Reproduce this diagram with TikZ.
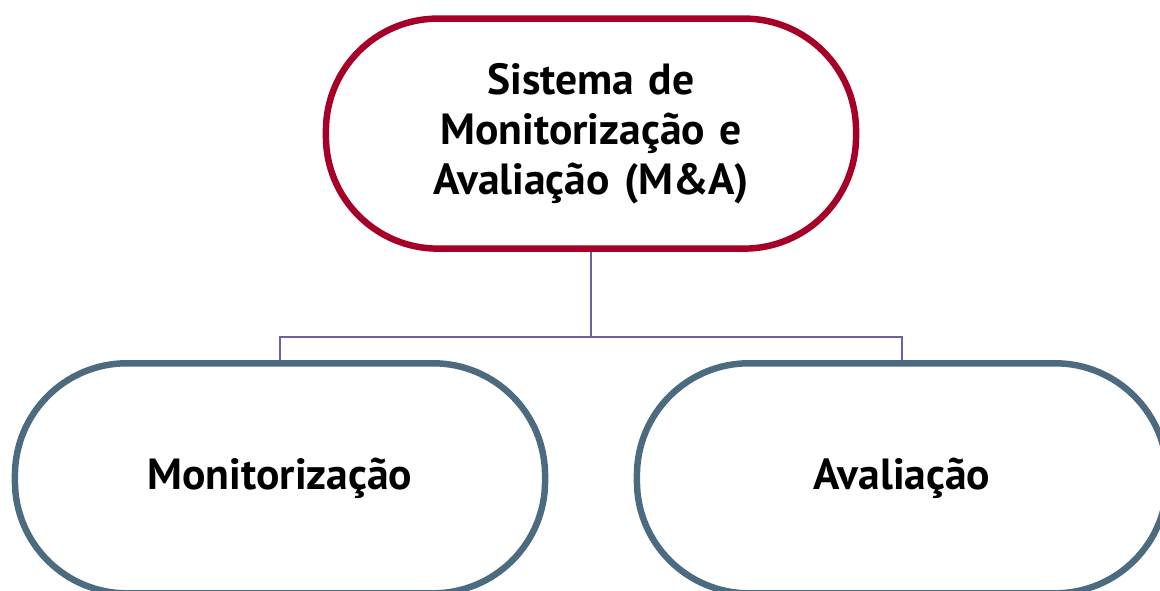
\documentclass[tikz,border=0pt]{standalone}
\usepackage{fontspec}
\setmainfont{PT Sans}
\usepackage{xcolor}
\usepackage{tikz}
\usetikzlibrary{positioning,backgrounds}

\definecolor{mered}{RGB}{166,0,40}
\definecolor{meslate}{RGB}{76,107,128}
\definecolor{meline}{RGB}{104,98,160}

\begin{document}
\begin{tikzpicture}[
    x=0.025cm, y=-0.025cm,
    box/.style={rectangle, rounded corners=2.8cm, draw, line width=4.6pt, fill=white,
        minimum width=13.25cm, minimum height=5.75cm, text centered,
        font=\fontsize{31}{35.5}\selectfont\bfseries},
    topbox/.style={box, draw=mered, text width=9cm},
    subbox/.style={box, draw=meslate},
    link/.style={draw=meline, line width=1.3pt}
]
\useasboundingbox (0,0) rectangle (1160,591);

% Main node
\node[topbox] (sys) at (591,133.6) {Sistema de\\Monitorização e\\Avaliação (M\&A)};

% Two parts
\node[subbox] (mon) at (280,478.3) {Monitorização};
\node[subbox] (aval) at (902,478.3) {Avaliação};

% Lines
\coordinate (split) at (591,336.7);
\begin{scope}[on background layer]
\draw[link] (sys) -- (split);
\draw[link] (mon.north) |- (split) -| (aval.north);
\end{scope}

\end{tikzpicture}
\end{document}
